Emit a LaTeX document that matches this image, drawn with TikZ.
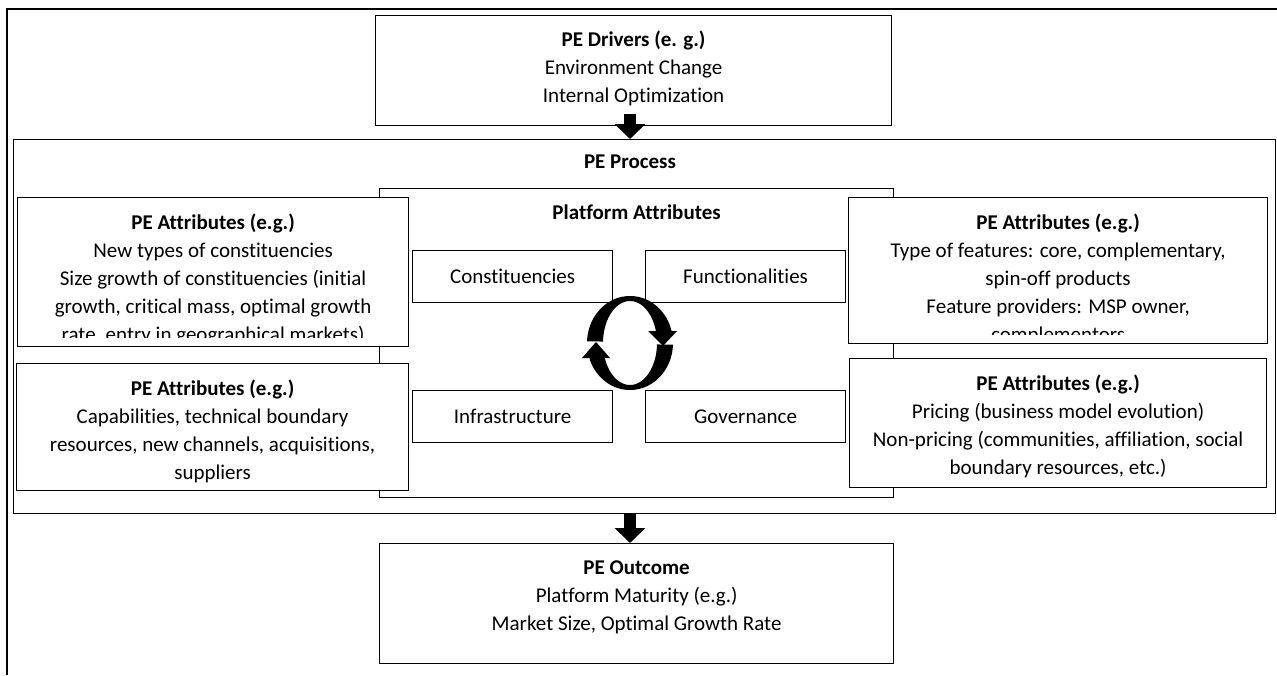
\documentclass[tikz,border=0pt]{standalone}
\usepackage{fontspec}
\setmainfont{Carlito}[Ligatures={NoCommon,NoContextual,NoRequired}]
\usetikzlibrary{arrows.meta}
\begin{document}
\begin{tikzpicture}[x=1pt,y=-1pt,
  box/.style={draw=black, line width=1.2pt, fill=white, inner sep=0pt, anchor=north west},
  txt/.style={font=\fontsize{21}{28}\selectfont, align=center, inner sep=0pt, anchor=north},
  lbl/.style={font=\fontsize{21}{28}\selectfont, inner sep=0pt},
  blockarr/.style={line width=12pt, -{Triangle[width=30pt,length=15pt]}},
  frame/.style={line width=2.8pt}
]
\useasboundingbox (0,0) rectangle (1277,675);
\fill[white] (0,0) rectangle (1277,675);
% outer frame (left and top edges visible)
\coordinate (fbl) at (7,675);
\coordinate (ftl) at (7,9);
\coordinate (ftr) at (1277,9);
\draw[frame] (fbl) -- (ftl) -- (ftr);
\coordinate (cyc) at (630,343);

% PE Drivers
\node[box, minimum width=516pt, minimum height=110pt] (drivers) at (375,15) {};
\node[txt] (driversT) at ([yshift=-12pt]drivers.north) {\strut\textbf{PE Drivers (e. g.)}\\Environment Change\\Internal Optimization};

% PE Process
\node[box, minimum width=1262pt, minimum height=374pt] (process) at (13,139) {};
\node[txt] (processT) at ([yshift=-10pt]process.north -| cyc) {\strut\textbf{PE Process}};

% Platform Attributes
\node[box, minimum width=514pt, minimum height=309pt] (platform) at (379,188) {};
\node[txt] (platformT) at ([yshift=-12pt]platform.north) {\strut\textbf{Platform Attributes}};

% Left top
\node[box, minimum width=391pt, minimum height=149pt] (lt) at (17,197) {};
\begin{scope}
\clip (lt.north west) rectangle ([yshift=9.5pt]lt.south east);
\node[txt] (ltT) at ([yshift=-13pt]lt.north) {\strut\textbf{PE Attributes (e.g.)}\\New types of constituencies\\Size growth of constituencies (initial\\growth, critical mass, optimal growth\\rate, entry in geographical markets)};
\end{scope}

% Left bottom
\node[box, minimum width=392pt, minimum height=127pt] (lb) at (16,363) {};
\node[txt] (lbT) at ([yshift=-13pt]lb.north) {\strut\textbf{PE Attributes (e.g.)}\\Capabilities, technical boundary\\resources, new channels, acquisitions,\\suppliers};

% Right top
\node[box, minimum width=419pt, minimum height=146pt] (rt) at (848,197) {};
\begin{scope}
\clip (rt.north west) rectangle ([yshift=9.5pt]rt.south east);
\node[txt] (rtT) at ([yshift=-13pt]rt.north) {\strut\textbf{PE Attributes (e.g.)}\\Type of features: core, complementary,\\spin-off products\\Feature providers: MSP owner,\\complementors};
\end{scope}

% Right bottom
\node[box, minimum width=417pt, minimum height=129pt] (rb) at (849,358) {};
\node[txt] (rbT) at ([yshift=-13pt]rb.north) {\strut\textbf{PE Attributes (e.g.)}\\Pricing (business model evolution)\\Non-pricing (communities, affiliation, social\\boundary resources, etc.)};

% Inner boxes
\node[box, minimum width=200pt, minimum height=52pt] (const) at (412,250) {};
\node[lbl] at (const.center) {Constituencies};
\node[box, minimum width=200pt, minimum height=52pt] (func) at (645,250) {};
\node[lbl] at (func.center) {Functionalities};
\node[box, minimum width=200pt, minimum height=52pt] (infra) at (412,390) {};
\node[lbl] at (infra.center) {Infrastructure};
\node[box, minimum width=200pt, minimum height=52pt] (gov) at (645,390) {};
\node[lbl] at (gov.center) {Governance};

% Cycle arrows
\fill[black] plot[domain=182:345, samples=50] ({630+43*cos(\x)},{343+47*sin(\x)})
  -- plot[domain=345:182, samples=50] ({630+27*cos(\x)},{343+42*sin(\x)}) -- cycle;
\fill[black] (648,331) -- (677,331) -- (663,346) -- cycle;
\fill[black] plot[domain=2:161, samples=50] ({630+43*cos(\x)},{343+47*sin(\x)})
  -- plot[domain=161:2, samples=50] ({630+27*cos(\x)},{343+42*sin(\x)}) -- cycle;
\fill[black] (582,358) -- (610,358) -- (596,342) -- cycle;

% PE Outcome
\node[box, minimum width=514pt, minimum height=120pt] (outcome) at (379,543) {};
\node[txt] (outcomeT) at ([yshift=-12pt]outcome.north) {\strut\textbf{PE Outcome}\\Platform Maturity (e.g.)\\Market Size, Optimal Growth Rate};

% Block arrows
\draw[blockarr] ([yshift=12pt]drivers.south -| cyc) -- (process.north -| cyc);
\draw[blockarr] (process.south -| cyc) -- (outcome.north -| cyc);
\end{tikzpicture}
\end{document}
